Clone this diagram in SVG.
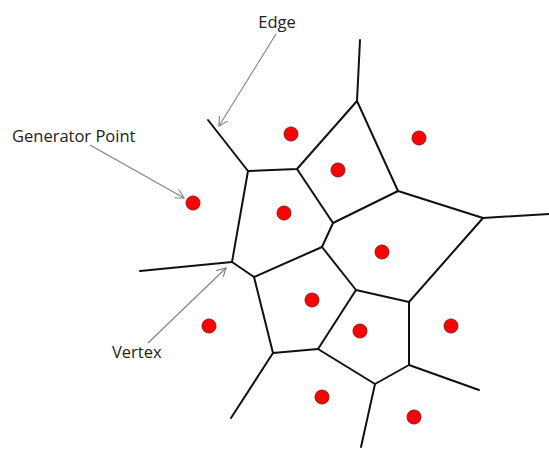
<svg xmlns="http://www.w3.org/2000/svg" width="549" height="450" viewBox="0 0 549 450">
<style>
.e{stroke:#111;stroke-width:2;fill:none;stroke-linecap:round;stroke-linejoin:round}
.a{stroke:#808080;stroke-width:1.1;fill:none;marker-end:url(#ah)}
.p{fill:#ff0000;stroke:#8a1a1a;stroke-width:1}
.t{font-family:"Open Sans","Liberation Sans",sans-serif;font-size:16.5px;fill:#222}
</style>
<defs>
<marker id="ah" viewBox="0 0 10 10" refX="9" refY="5" markerWidth="10" markerHeight="10" markerUnits="userSpaceOnUse" orient="auto">
<path d="M0,0 L9,5 L0,10" fill="none" stroke="#808080" stroke-width="1.1"/>
</marker>
</defs>
<rect width="549" height="450" fill="#fff"/>
<g id="edges">
<path class="e" d="M360,40 L357,101"/>
<path class="e" d="M208,120 L248,171"/>
<path class="e" d="M248,171 L297,169 L357,101 L398,191 L483,218 L549,214"/>
<path class="e" d="M297,169 L333,223 L398,191"/>
<path class="e" d="M333,223 L322,247 L254,277 L232,262 L248,171"/>
<path class="e" d="M232,262 L140,271"/>
<path class="e" d="M322,247 L356,290 L409,302 L483,218"/>
<path class="e" d="M409,302 L409,365 L479,390"/>
<path class="e" d="M409,365 L375,384 L361,447"/>
<path class="e" d="M375,384 L318,349 L356,290"/>
<path class="e" d="M318,349 L273,353 L254,277"/>
<path class="e" d="M273,353 L231,418"/>
</g>
<g id="points">
<circle class="p" cx="291" cy="134" r="7"/>
<circle class="p" cx="193" cy="203" r="7"/>
<circle class="p" cx="338" cy="170" r="7"/>
<circle class="p" cx="419" cy="138" r="7"/>
<circle class="p" cx="382" cy="252" r="7"/>
<circle class="p" cx="284" cy="213" r="7"/>
<circle class="p" cx="209" cy="326" r="7"/>
<circle class="p" cx="312" cy="300" r="7"/>
<circle class="p" cx="360" cy="331" r="7"/>
<circle class="p" cx="451" cy="326" r="7"/>
<circle class="p" cx="322" cy="397" r="7"/>
<circle class="p" cx="414" cy="417" r="7"/>
</g>
<g id="label-edge">
<text class="t" x="277" y="28" text-anchor="middle">Edge</text>
<path class="a" d="M276,34 L219,126"/>
</g>
<g id="label-generator">
<text class="t" x="12" y="142">Generator Point</text>
<path class="a" d="M90,145 L184,198"/>
</g>
<g id="label-vertex">
<text class="t" x="112" y="358">Vertex</text>
<path class="a" d="M148,343 L226,268"/>
</g>
</svg>
